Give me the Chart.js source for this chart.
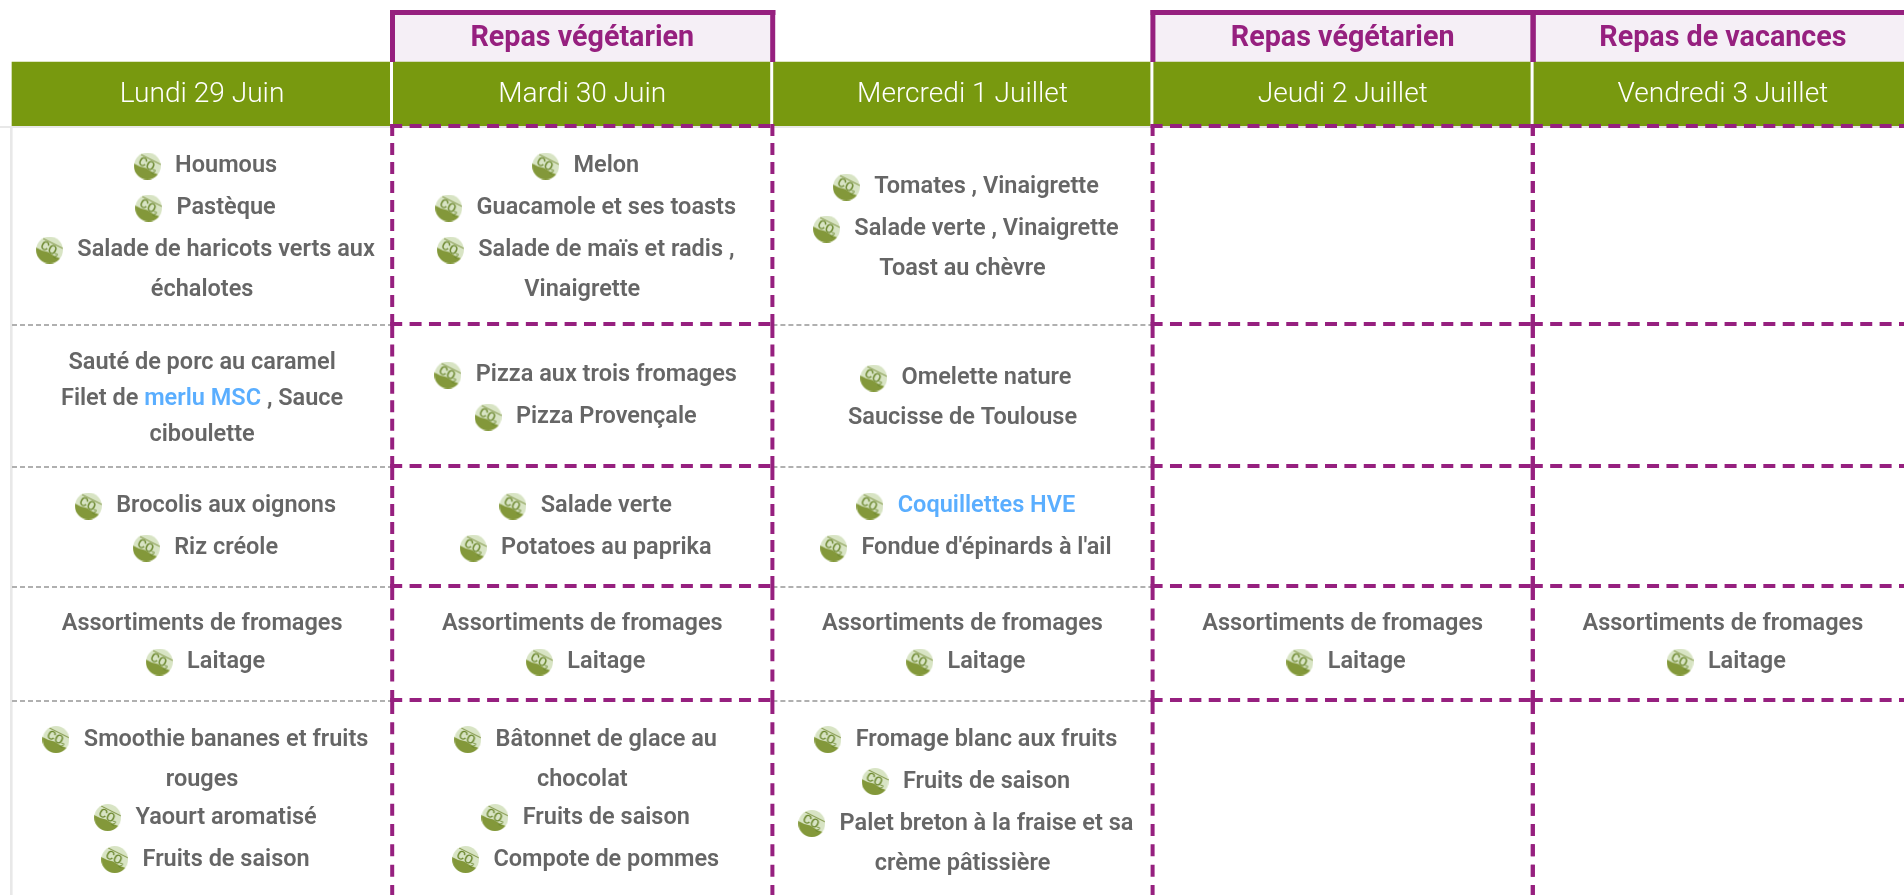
<!DOCTYPE html>
<html lang="fr">
<head>
<meta charset="utf-8">
<title>Menu de la semaine</title>
<style>html,body{margin:0;padding:0;background:#fff;overflow:hidden}canvas{display:block}</style>
<script src="https://cdn.jsdelivr.net/npm/chart.js@4"></script>
</head>
<body>
<canvas id="c" width="1904" height="895"></canvas>
<script>
// "@" marks a line preceded by the CO2 logo.
const days = ["Lundi 29 Juin","Mardi 30 Juin","Mercredi 1 Juillet","Jeudi 2 Juillet","Vendredi 3 Juillet"];
const banners = ["","Repas végétarien","","Repas végétarien","Repas de vacances"];
const starters = [
  ["@Houmous","@Pastèque","@Salade de haricots verts aux","échalotes"],
  ["@Melon","@Guacamole et ses toasts","@Salade de maïs et radis ,","Vinaigrette"],
  ["@Tomates , Vinaigrette","@Salade verte , Vinaigrette","Toast au chèvre"],
  [],[]
];
const mains = [
  ["Sauté de porc au caramel","Filet de merlu MSC , Sauce","ciboulette"],
  ["@Pizza aux trois fromages","@Pizza Provençale"],
  ["@Omelette nature","Saucisse de Toulouse"],
  [],[]
];
const sides = [
  ["@Brocolis aux oignons","@Riz créole"],
  ["@Salade verte","@Potatoes au paprika"],
  ["@Coquillettes HVE","@Fondue d'épinards à l'ail"],
  [],[]
];
const dairy = [
  ["Assortiments de fromages","@Laitage"],
  ["Assortiments de fromages","@Laitage"],
  ["Assortiments de fromages","@Laitage"],
  ["Assortiments de fromages","@Laitage"],
  ["Assortiments de fromages","@Laitage"]
];
const desserts = [
  ["@Smoothie bananes et fruits","rouges","@Yaourt aromatisé","@Fruits de saison"],
  ["@Bâtonnet de glace au","chocolat","@Fruits de saison","@Compote de pommes"],
  ["@Fromage blanc aux fruits","@Fruits de saison","@Palet breton à la fraise et sa","crème pâtissière"],
  [],[]
];
const courses = [starters, mains, sides, dairy, desserts];
const highlighted = ["merlu MSC","Coquillettes HVE"];
const specialColumns = [1,3,4];

// Layout
const W = 1904, H = 895, X0 = 12, COL = 380.2;
const rowEdges = [126,324,466,586,700,897];
const PURPLE = "#96207f", GREEN = "#78990f", GREY = "#666666", BLUE = "#5aaeff", TINT = "#f5eff6";
const BODY_FONT = '600 23.5px Roboto', HEAD_FONT = '300 28.1px Roboto', BANNER_FONT = '700 28.7px Roboto';
const dx = px => px / COL;                   // pixels → column units
const colMin = -X0 / COL, colMax = (W - X0) / COL;

const mctx = document.createElement('canvas').getContext('2d');
mctx.font = BODY_FONT;

// CO2 logo used as the point style
function co2Icon(){
  const s = 27, c = document.createElement('canvas'); c.width = c.height = s;
  const g = c.getContext('2d');
  g.save(); g.beginPath(); g.arc(s/2,s/2,s/2-.1,0,Math.PI*2); g.clip();
  g.fillStyle = "#d8e4c4"; g.fillRect(0,0,s,s);
  g.fillStyle = "#83983a";
  g.beginPath(); g.moveTo(0,11); g.lineTo(6,14); g.lineTo(12,15.5); g.lineTo(19,20); g.lineTo(27,23); g.lineTo(27,27); g.lineTo(0,27); g.closePath(); g.fill();
  g.strokeStyle = "#7d9240"; g.lineWidth = 1;
  g.beginPath(); g.moveTo(7,2); g.lineTo(27,12); g.stroke();
  g.translate(s/2,s/2); g.rotate(Math.PI/180*27);
  g.fillStyle = "#6d8930"; g.font = '500 12.5px Roboto'; g.textAlign='center'; g.textBaseline='middle';
  g.fillText("CO",-1.5,-0.5);
  g.font = '500 7px Roboto'; g.fillText("2",8,3);
  g.restore();
  return c;
}

// Lay the lines of a cell out: icon lines have a taller line box.
function layoutCell(lines, row){
  const ic = lines.map(l => l[0] === "@");
  const ys = [0];
  for(let i=1;i<lines.length;i++) ys.push(ys[i-1] + 36 + (ic[i-1]?4:0) + (ic[i]?2:0));
  const top = -(ic[0]?20:18), bot = ys[ys.length-1] + (ic[ic.length-1]?22:18);
  const centre = (rowEdges[row]+rowEdges[row+1])/2;
  const f = centre - (top+bot)/2 + (ic.some(Boolean)?0:1.5);
  return lines.map((l,i)=>({text:ic[i]?l.slice(1):l, icon:ic[i], y:f+ys[i]}));
}
const placed = [];
const iconPoints = [];
courses.forEach((course,row)=>course.forEach((lines,col)=>{
  if(!lines.length) return;
  layoutCell(lines,row).forEach(L=>{
    const tw = mctx.measureText(L.text).width;
    const cx = col + .5 + (L.icon ? dx(24) : 0);
    placed.push({text:L.text,x:cx,y:L.y});
    if(L.icon) iconPoints.push({x:cx - dx(tw/2 + 27.8), y:L.y + 2});
  });
}));

// Datasets
const ds = [];
const rule = (pts,color,width,dash,order)=>ds.push({type:'line',data:pts,borderColor:color,borderWidth:width,
  borderDash:dash||[],pointRadius:0,fill:false,tension:0,order});
const fit = len => { const n = Math.max(1,Math.round((len-12)/19.3)); return [12,(len-12)/n-12]; };

// header and banner cells
ds.push({type:'bar',grouped:false,data:days.map((d,i)=>({x:i+.5,y:[62,126]})),backgroundColor:GREEN,barThickness:COL,borderWidth:0,order:6});
ds.push({type:'bar',grouped:false,data:banners.map((b,i)=>b?{x:i+.5,y:[15,62]}:null).filter(Boolean),backgroundColor:TINT,barThickness:COL,borderWidth:0,order:6});
// light frame
rule([{x:colMin,y:127},{x:colMax,y:127}],"#e8e8e8",2,null,5);
rule([{x:dx(-.7),y:126},{x:dx(-.7),y:H}],"#e8e8e8",2.6,null,5);
// header separators
for(let i=1;i<5;i++) rule([{x:i-dx(.7),y:62},{x:i-dx(.7),y:126}],"#ffffff",3,null,4);
// grey row rules in the ordinary columns
rowEdges.slice(1,5).forEach(y=>[0,2].forEach(c=>rule([{x:c,y:y+1},{x:c+1,y:y+1}],"#b0b0b0",2,[5,3],4)));
// purple banner frames
specialColumns.forEach(c=>{
  rule([{x:c-dx(2),y:12.5},{x:c+1+dx(3),y:12.5}],PURPLE,5,null,3);
  rule([{x:c+dx(.3),y:10},{x:c+dx(.3),y:62}],PURPLE,5,null,3);
  rule([{x:c+1+dx(.3),y:10},{x:c+1+dx(.3),y:62}],PURPLE,5,null,3);
});
// purple dashed cells
const segTop = [124,326,468,588,702,897];
specialColumns.forEach(c=>{
  [126,324,466,586,700].forEach(y=>rule([{x:c-dx(2),y},{x:c+1-dx(2),y}],PURPLE,4,fit(COL),2));
  [c,c+1].forEach(e=>{
    for(let r=0;r<5;r++) rule([{x:e,y:segTop[r]},{x:e,y:segTop[r+1]}],PURPLE,4,fit(segTop[r+1]-segTop[r]),2);
  });
});
// CO2 logos
ds.push({type:'scatter',data:iconPoints,pointStyle:co2Icon(),pointRadius:13.5,pointHoverRadius:13.5,showLine:false,order:1});

const textPlugin = {
  id:'tableText',
  afterDatasetsDraw(chart){
    const {ctx,scales:{x,y}} = chart;
    ctx.save();
    ctx.textBaseline='alphabetic'; ctx.textAlign='left';
    const centred = (t,col,yy,font,color)=>{ctx.font=font;ctx.fillStyle=color;const w=ctx.measureText(t).width;
      ctx.fillText(t,x.getPixelForValue(col)-w/2,y.getPixelForValue(yy));};
    days.forEach((d,i)=>centred(d,i+.5,102,HEAD_FONT,"#ffffff"));
    banners.forEach((b,i)=>{ if(b) centred(b,i+.5,46,BANNER_FONT,PURPLE); });
    ctx.font = BODY_FONT;
    placed.forEach(p=>{
      const hit = highlighted.find(h=>p.text.includes(h));
      const runs = hit ? p.text.split(hit).flatMap((s,i)=>i?[[hit,BLUE],[s,GREY]]:[[s,GREY]]).filter(r=>r[0]) : [[p.text,GREY]];
      const total = ctx.measureText(p.text).width;
      let cx = x.getPixelForValue(p.x)-total/2;
      const by = y.getPixelForValue(p.y+8);
      let sofar = "";
      runs.forEach(([t,c])=>{
        ctx.fillStyle=c;
        ctx.fillText(t,cx+ctx.measureText(sofar).width,by);
        sofar+=t;
      });
    });
    ctx.restore();
  }
};

new Chart(document.getElementById('c'),{
  type:'bar',
  data:{datasets:ds},
  options:{
    responsive:false,animation:false,events:[],
    layout:{padding:0,autoPadding:false},
    plugins:{legend:{display:false},tooltip:{enabled:false},title:{display:false}},
    scales:{
      x:{type:'linear',min:colMin,max:colMax,offset:false,display:false},
      y:{type:'linear',min:0,max:H,reverse:true,display:false}
    }
  },
  plugins:[textPlugin]
});
</script>
</body>
</html>
